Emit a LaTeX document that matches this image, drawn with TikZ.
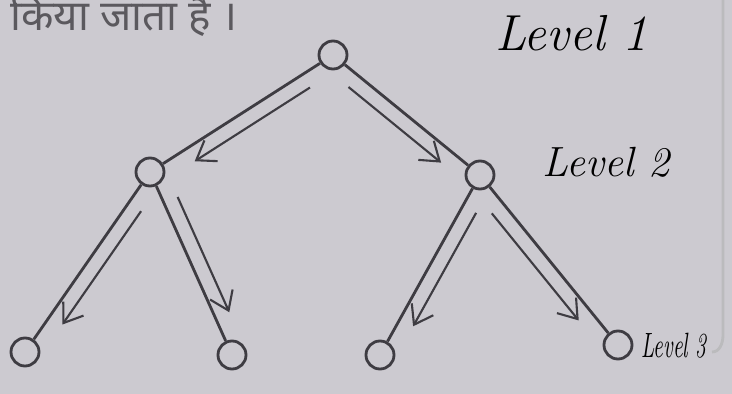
\documentclass[tikz,border=0pt]{standalone}
\usepackage{fontspec}
\newfontfamily\hindifont[Script=Devanagari]{Noto Sans}
\usetikzlibrary{arrows.meta,calc}
\definecolor{paper}{RGB}{204,202,208}
\definecolor{pencil}{RGB}{62,60,66}

\begin{document}
\begin{tikzpicture}[x=0.01cm, y=-0.01cm, font=\Large\itshape,
    vtx/.style={circle, draw=pencil, thick, minimum size=0.28cm, inner sep=0pt},
    edge/.style={draw=pencil, thick},
    walk/.style={draw=pencil, semithick, -{Straight Barb[length=5pt,width=7pt]}}]
        \fill[paper] (0,0) rectangle (732,394);
        \useasboundingbox (0,0) rectangle (732,394);
        \node[anchor=west, font=\large\hindifont, text=pencil!85] (head) at (-2,15) {किया जाता है ।};
        \draw[pencil!35, thick] (723,0) -- (723,335) to[out=-90,in=0] (712,352);

        \node[vtx] (root) at (333,55) {};
        \node[vtx] (nl) at (150,172) {};
        \node[vtx] (nr) at (480,175) {};
        \node[vtx] (ll) at (25,352) {};
        \node[vtx] (lr) at (232,355) {};
        \node[vtx] (rl) at (380,355) {};
        \node[vtx] (rr) at (618,345) {};

        \node[anchor=west] (lev1) at (483,33) {Level 1};
        \node[anchor=west, font=\large\itshape] (lev2) at (530,162) {Level 2};
        \node[anchor=west, transform shape, xscale=0.6, font=\normalsize\itshape] (lev3) at (634,346) {Level 3};

        \foreach \a/\b in {root/nl,root/nr,nl/ll,nl/lr,nr/rl,nr/rr}
          \draw[edge] (\a) -- (\b);
        \foreach \a/\b/\r in {root/nl/90,root/nr/-90,nl/ll/90,nl/lr/90,nr/rl/90,nr/rr/-90}
          \draw[walk] ($(\a)!0.17!(\b)!0.15cm!\r:(\b)$) -- ($(\a)!0.8!(\b)!0.15cm!\r:(\b)$);
      \end{tikzpicture}
\end{document}
